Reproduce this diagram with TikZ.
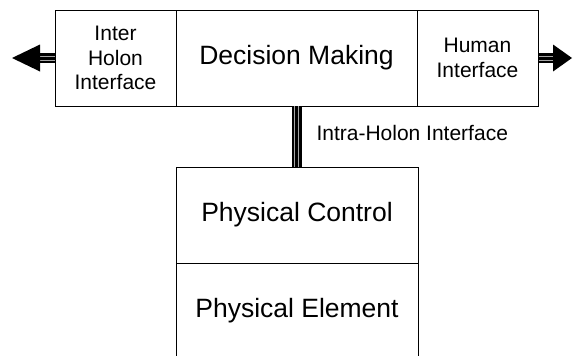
\documentclass[tikz,border=0pt]{standalone}
\usepackage{fontspec}
\setmainfont{Liberation Sans}
\begin{document}
\begin{tikzpicture}[x=1pt,y=-1pt,
  box/.style={draw=black,line width=1pt,rectangle,inner sep=0pt,align=center},
  big/.style={font=\fontsize{26.5}{30}\selectfont},
  small/.style={font=\fontsize{21}{24.5}\selectfont},
  shaftblack/.style={line width=10pt,draw=black},
  shaftgray/.style={line width=1pt,draw=gray!70,double=black,double distance=3pt},
  headfill/.style={fill=black}]
\clip (0,0) rectangle (573,356);
\fill[white] (0,0) rectangle (573,356);
% top row
\node[box,small,minimum width=121pt,minimum height=96pt] (inter) at (115.5,58) {Inter\\Holon\\Interface};
\node[box,big,minimum width=241pt,minimum height=96pt] (dm) at (296.5,58) {Decision Making};
\node[box,small,minimum width=121pt,minimum height=96pt] (human) at (477.5,58) {Human\\Interface};
% bottom column
\node[box,big,minimum width=242pt,minimum height=96pt] (pc) at (297,215) {Physical Control};
\node[box,big,minimum width=242pt,minimum height=96pt] (pe) at (297,311) {Physical Element};
% vertical connector
\coordinate (ct) at (296.5,106);
\coordinate (cb) at (296.5,167);
\draw[shaftblack] (ct) -- (cb);
\draw[shaftgray] (ct) -- (cb);
\node[small,anchor=west] (intra) at (313,133) {Intra-Holon Interface};
% left arrow
\coordinate (lb) at (40,58);
\coordinate (lt) at (12,58);
\draw[shaftblack] (inter.west) -- (lb);
\draw[shaftgray] (inter.west) -- (lb);
\fill[headfill] (lt) -- ([yshift=-13.5pt]lb) -- ([yshift=13.5pt]lb) -- cycle;
% right arrow
\coordinate (rb) at (553,58);
\coordinate (rt) at (572,58);
\draw[shaftblack] (human.east) -- (rb);
\draw[shaftgray] (human.east) -- (rb);
\fill[headfill] (rt) -- ([yshift=-13.5pt]rb) -- ([yshift=13.5pt]rb) -- cycle;
\end{tikzpicture}
\end{document}
